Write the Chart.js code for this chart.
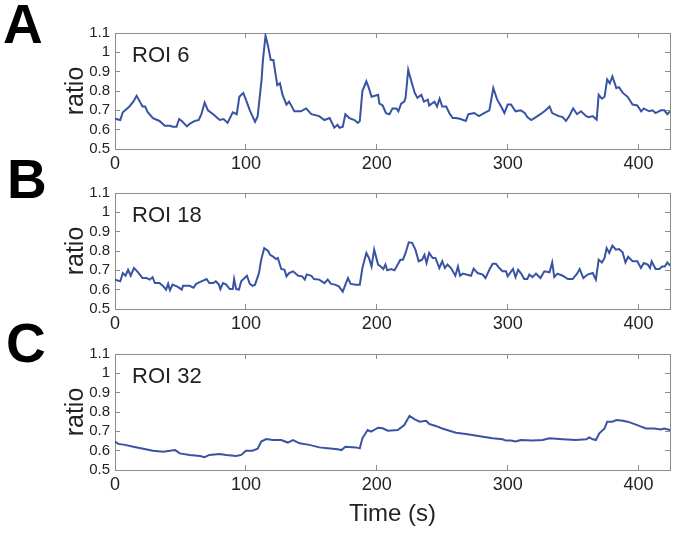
<!DOCTYPE html>
<html>
<head>
<meta charset="utf-8">
<script src="https://cdn.jsdelivr.net/npm/chart.js@4/dist/chart.umd.min.js"></script>
<style>
  html, body { margin: 0; padding: 0; background: #fff; }
  #wrap { position: relative; width: 675px; height: 534px; overflow: hidden; }
  .pc { position: absolute; left: 0; }
  .letter { position: absolute; font-family: 'Liberation Sans', Arial, sans-serif; font-weight: bold; font-size: 55px; color: #000; line-height: 1; }
</style>
</head>
<body>
<div id="wrap">
  <canvas id="cA" class="pc" width="675" height="180" style="top:0px"></canvas>
  <canvas id="cB" class="pc" width="675" height="180" style="top:160px"></canvas>
  <canvas id="cC" class="pc" width="675" height="213" style="top:321px"></canvas>
  <div class="letter" style="left:3px; top:-3px;">A</div>
  <div class="letter" style="left:7px; top:152px;">B</div>
  <div class="letter" style="left:6px; top:316px;">C</div>
</div>
<script>
// ---- data ----
const panelLabels = ['ROI 6', 'ROI 18', 'ROI 32'];
const xTickLabels = [0, 100, 200, 300, 400];
const yTickLabels = [0.5, 0.6, 0.7, 0.8, 0.9, 1, 1.1];

const timeA = [0,4,6,11,14,16.5,19,21,23,25,29,34,38,42,44,47,49,51,55,57,61,64,66,68.5,71,75,80,83,86,90,93,95,98,100,103,107,109,112,113,115,117,119,121,124,126,128,131,133,137,142,146,150,156,160,164,167.5,170,171.5,174,176,179,183,185.5,187,189,192,194,196,201,202,204.5,207,209.7,212,215,216.5,218.6,221,222,224,226,229,231,234,236,239,240,244,246,248,250,253,255.5,258,260.5,264,268,270,274.5,278,282,286,289,292,295,297.5,300,302.5,306,310,313,315,318,321.6,325,329,332,334,339,342,344.5,347,350,353,356,360,362,365,368,369.5,372,374,376,378,380,383,385,388,391.6,395.4,399,402,404,408,410.7,413,417,419.6,422,424];
const ratioA = [0.656,0.65,0.69,0.72,0.745,0.775,0.745,0.72,0.72,0.69,0.66,0.645,0.62,0.62,0.615,0.615,0.655,0.645,0.617,0.63,0.645,0.65,0.68,0.74,0.70,0.68,0.65,0.655,0.635,0.69,0.68,0.77,0.79,0.755,0.70,0.64,0.67,0.86,0.96,1.086,1.03,0.96,0.96,0.83,0.84,0.78,0.73,0.745,0.695,0.695,0.71,0.68,0.67,0.65,0.66,0.61,0.625,0.61,0.615,0.68,0.66,0.65,0.635,0.645,0.80,0.85,0.815,0.77,0.78,0.735,0.725,0.685,0.68,0.71,0.71,0.695,0.735,0.745,0.765,0.91,0.86,0.79,0.765,0.78,0.745,0.755,0.725,0.745,0.72,0.76,0.72,0.72,0.685,0.66,0.66,0.655,0.645,0.68,0.686,0.67,0.686,0.70,0.815,0.755,0.72,0.686,0.73,0.73,0.695,0.70,0.686,0.665,0.65,0.665,0.68,0.70,0.72,0.686,0.67,0.665,0.645,0.67,0.71,0.68,0.695,0.67,0.665,0.67,0.652,0.78,0.76,0.77,0.86,0.84,0.875,0.815,0.82,0.79,0.77,0.73,0.725,0.695,0.71,0.695,0.70,0.686,0.70,0.70,0.68,0.695];

const timeB = [0,4,6,8,10,12,14.5,17,19,21,24,26.6,28.7,30.5,34,37,39,40.6,42,44,48,51,52,57,60,62,66,70,72,75,77,79.4,80.5,82.5,85,87.6,90,91,92.6,94.7,96.4,99,100.8,103,105,107,110,111.7,114,117,118.5,121,123,124.4,127,129.5,131,133,136,140,143,145,146.5,150,152,156,160,162.5,165,168,171,174,176,178,180,184,187,189,192,194,196,198,201,203,205,206.6,208,211,213.5,216,218,220,222,224.4,227,229.5,232,234.6,236.4,238,240,242.7,244.8,247.8,250,252,254,256.7,260,262,263.6,265.6,272,274,277,281,283,286,288.5,291,293.6,296,298.7,300,304,306,308,310,312.7,315,316.5,319,321.6,325,328,332,334,335.6,338,342,346,349.6,353,355,357.8,361,365,367.4,369.5,372,374,375.6,377.6,380,382.7,385,387.8,390,392,395.4,399,401.8,404,407,408.7,410,413,415.8,418,420,422,424];
const ratioB = [0.652,0.643,0.686,0.672,0.703,0.672,0.712,0.695,0.678,0.66,0.66,0.652,0.665,0.634,0.634,0.617,0.60,0.63,0.597,0.626,0.614,0.60,0.62,0.62,0.61,0.63,0.643,0.655,0.634,0.634,0.643,0.626,0.603,0.634,0.626,0.603,0.603,0.655,0.603,0.60,0.643,0.66,0.672,0.63,0.62,0.626,0.686,0.755,0.815,0.80,0.78,0.77,0.758,0.764,0.707,0.703,0.669,0.686,0.695,0.672,0.669,0.652,0.679,0.672,0.655,0.652,0.634,0.652,0.63,0.626,0.617,0.59,0.626,0.66,0.63,0.626,0.626,0.712,0.79,0.764,0.72,0.807,0.73,0.72,0.707,0.73,0.70,0.707,0.70,0.73,0.755,0.755,0.79,0.845,0.842,0.807,0.747,0.755,0.78,0.738,0.79,0.764,0.764,0.712,0.747,0.712,0.73,0.712,0.672,0.72,0.672,0.683,0.672,0.709,0.686,0.678,0.66,0.703,0.734,0.734,0.712,0.695,0.695,0.669,0.707,0.665,0.703,0.686,0.655,0.655,0.678,0.665,0.683,0.66,0.695,0.69,0.741,0.665,0.683,0.672,0.655,0.655,0.683,0.707,0.66,0.678,0.686,0.652,0.755,0.741,0.764,0.815,0.79,0.828,0.807,0.81,0.793,0.741,0.77,0.747,0.747,0.712,0.738,0.73,0.712,0.747,0.707,0.707,0.72,0.72,0.741,0.724];

const timeC = [0,2.5,7.6,14,21.6,29,37,46,49.5,57,65,68.5,72,80,85,92.6,96.4,100,105,109,111.7,115.5,120.5,127,132,136,141,148.5,156,162.5,170,173,176,184,187,189,193,195.7,201,204.5,208.4,216,221,225,229,232.8,237.7,240,245,250,255.5,260.5,268,273,281,288.5,296,298.7,302.5,306,310,319,326.7,332,342,352,360,362.3,365,367.4,370,374,376,380,383,388,391.6,395.4,400.5,405.6,412,417,419.6,424];
const ratioC = [0.647,0.635,0.63,0.62,0.61,0.60,0.595,0.603,0.586,0.578,0.572,0.566,0.578,0.583,0.578,0.572,0.578,0.60,0.60,0.61,0.647,0.66,0.655,0.655,0.642,0.655,0.638,0.63,0.617,0.612,0.607,0.603,0.62,0.617,0.612,0.664,0.707,0.698,0.719,0.716,0.703,0.707,0.733,0.78,0.762,0.75,0.755,0.738,0.728,0.715,0.703,0.693,0.686,0.681,0.672,0.664,0.659,0.652,0.652,0.647,0.655,0.652,0.655,0.664,0.659,0.655,0.659,0.669,0.659,0.655,0.69,0.715,0.75,0.75,0.758,0.755,0.75,0.741,0.728,0.715,0.715,0.71,0.715,0.707];

const X_MIN = 0, X_MAX = 424, Y_MIN = 0.5, Y_MAX = 1.1;

// ---- rendering ----
const FONT = "'Liberation Sans', Arial, sans-serif";
const AXIS_GREY = '#8c8c8c';
const TEXT = '#222';
const LINE = '#3953a4';

const roiPlugin = {
  id: 'roiLabel',
  afterDatasetsDraw(chart, args, opts) {
    const {ctx, chartArea} = chart;
    ctx.save();
    ctx.font = '22px ' + FONT;
    ctx.fillStyle = TEXT;
    ctx.textBaseline = 'alphabetic';
    ctx.textAlign = 'left';
    ctx.fillText(opts.text, chartArea.left + 17, chartArea.top + 29);
    ctx.restore();
  }
};

function fmt(v) { return String(Math.round(v * 10) / 10); }

function makePanel(id, times, values, label, canvasH, withTitle) {
  const pts = times.map((t, i) => ({x: t, y: values[i]}));
  const bottomH = canvasH - 149;
  const borderOpt = {display: true, color: AXIS_GREY, width: 1};
  new Chart(document.getElementById(id), {
    type: 'line',
    data: {
      datasets: [{
        data: pts,
        borderColor: LINE,
        borderWidth: 2,
        pointRadius: 0,
        tension: 0,
        fill: false,
        xAxisID: 'x',
        yAxisID: 'y'
      }]
    },
    options: {
      responsive: false,
      animation: false,
      events: [],
      layout: {padding: 0},
      plugins: {
        legend: {display: false},
        tooltip: {enabled: false},
        roiLabel: {text: label}
      },
      scales: {
        x: {
          type: 'linear', position: 'bottom', min: X_MIN, max: X_MAX,
          afterBuildTicks: s => { s.ticks = xTickLabels.map(v => ({value: v})); },
          ticks: {font: {family: FONT, size: 18}, color: TEXT, padding: 9, maxRotation: 0, autoSkip: false,
                  callback: v => String(v)},
          grid: {drawOnChartArea: false, drawTicks: true, tickLength: -5, color: AXIS_GREY},
          border: borderOpt,
          title: withTitle ? {display: true, text: 'Time (s)', font: {family: FONT, size: 24}, color: TEXT,
                              padding: {top: 0, bottom: 5}} : {display: false},
          afterFit: s => { s.height = bottomH; }
        },
        x2: {
          type: 'linear', position: 'top', min: X_MIN, max: X_MAX,
          afterBuildTicks: s => { s.ticks = xTickLabels.map(v => ({value: v})); },
          ticks: {display: false},
          grid: {drawOnChartArea: false, drawTicks: true, tickLength: -5, color: AXIS_GREY},
          border: borderOpt,
          afterFit: s => { s.height = 33; }
        },
        y: {
          type: 'linear', position: 'left', min: Y_MIN, max: Y_MAX,
          afterBuildTicks: s => { s.ticks = yTickLabels.map(v => ({value: v})); },
          ticks: {font: {family: FONT, size: 15}, color: TEXT, padding: 10, autoSkip: false,
                  callback: v => fmt(v)},
          grid: {drawOnChartArea: false, drawTicks: true, tickLength: -5, color: AXIS_GREY},
          border: borderOpt,
          title: {display: true, text: 'ratio', font: {family: FONT, size: 25}, color: TEXT,
                  padding: {top: 61, bottom: 0}},
          afterFit: s => { s.width = 115; }
        },
        y2: {
          type: 'linear', position: 'right', min: Y_MIN, max: Y_MAX,
          afterBuildTicks: s => { s.ticks = yTickLabels.map(v => ({value: v})); },
          ticks: {display: false},
          grid: {drawOnChartArea: false, drawTicks: true, tickLength: -5, color: AXIS_GREY},
          border: borderOpt,
          afterFit: s => { s.width = 5; }
        }
      }
    },
    plugins: [roiPlugin]
  });
}

makePanel('cA', timeA, ratioA, panelLabels[0], 180, false);
makePanel('cB', timeB, ratioB, panelLabels[1], 180, false);
makePanel('cC', timeC, ratioC, panelLabels[2], 213, true);
</script>
</body>
</html>
